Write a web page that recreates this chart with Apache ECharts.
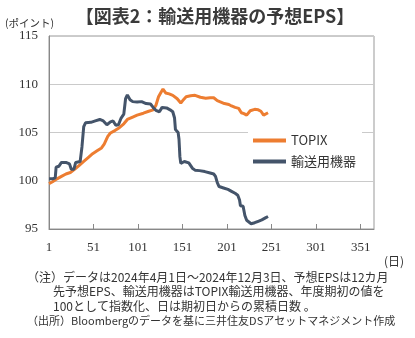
<!DOCTYPE html>
<html><head><meta charset="utf-8">
<script src="https://cdn.jsdelivr.net/npm/echarts@6/dist/echarts.min.js"></script>
<style>html,body{margin:0;padding:0;background:#fff}#c{width:415px;height:338px}</style>
</head><body><div id="c"></div>
<script>
const seriesNames = ['TOPIX', '輸送用機器'];
const topixDays = [1,5,10,15,20,25,30,35,40,45,50,55,60,63,67,70,75,80,85,89,95,100,107,113,118,121,124,127,129,132,136,140,145,149,152,155,160,165,171,177,182,186,190,194,198,203,206,210,214,217,220,223,227,232,236,239,242,244,246,247];
const topixValues = [99.7,99.9,100.2,100.45,100.7,100.85,101.2,101.6,102.0,102.4,102.8,103.1,103.4,103.8,104.6,104.95,105.2,105.5,105.9,106.35,106.6,106.8,107.0,107.2,107.35,107.8,108.7,109.2,109.5,109.1,109.0,108.85,108.5,108.05,108.4,108.7,108.8,108.85,108.65,108.55,108.6,108.6,108.3,108.15,108.0,107.9,107.75,107.6,107.5,107.05,106.95,106.8,107.25,107.4,107.35,107.2,106.8,106.7,107.0,107.05];
const autoDays = [1,5,8,9,12,15,20,24,26,29,31,36,38,40,42,48,53,58,62,66,70,73,76,79,82,85,87,89,92,95,100,105,110,115,118,121,125,128,130,133,137,140,142,143,146,147,148,149,153,158,160,162,165,170,176,182,186,188,190,192,197,202,206,210,213,215,216,219,221,223,225,228,232,236,240,244,247];
const autoValues = [100.2,100.2,100.3,101.4,101.5,101.9,101.9,101.75,101.2,101.2,101.9,102.0,103.5,105.6,106.0,106.05,106.2,106.35,106.2,105.8,106.1,106.2,105.75,105.8,106.5,106.9,108.5,108.9,108.4,108.2,108.15,108.2,108.0,107.95,107.6,107.3,107.15,107.6,107.75,107.55,107.35,107.15,106.5,105.3,105.0,104.3,102.5,101.8,102.0,101.85,101.7,101.3,101.1,101.05,100.95,100.8,100.7,100.45,99.8,99.4,99.25,99.1,98.9,98.7,98.5,98.0,97.4,97.35,96.4,95.9,95.7,95.55,95.65,95.8,95.95,96.15,96.3];
const xTicks = [1,51,101,151,201,251,301,351];
const yTicks = [95,100,105,110,115];

const titleText = '【図表2：輸送用機器の予想EPS】';
const noteLines = [
  '（注）データは2024年4月1日～2024年12月3日、予想EPSは12カ月',
  '先予想EPS、輸送用機器はTOPIX輸送用機器、年度期初の値を',
  '100として指数化、日は期初日からの累積日数 。',
  '（出所）Bloombergのデータを基に三井住友DSアセットマネジメント作成'
];

const pairs = (d, v) => d.map((x, i) => [x, v[i]]);
const chart = echarts.init(document.getElementById('c'), null, {renderer: 'canvas'});
const jp = '"Noto Sans CJK JP", sans-serif';
chart.setOption({
  animation: false,
  grid: {left: 49, right: 41, top: 36, bottom: 109, show: true, borderColor: '#999', borderWidth: 1},
  legend: {
    orient: 'vertical', left: 248, top: 129, padding: [5, 6, 5, 5], itemGap: 8,
    backgroundColor: '#fff', itemWidth: 33, itemHeight: 4, icon: 'rect',
    textStyle: {fontFamily: jp, fontSize: 13, color: '#333'},
    data: seriesNames
  },
  xAxis: {
    type: 'value', min: xTicks[0], max: 366, interval: 50,
    axisLine: {lineStyle: {color: '#888'}},
    axisTick: {show: true, inside: true, length: 5, lineStyle: {color: '#888'}},
    splitLine: {show: false},
    axisLabel: {margin: 12, fontFamily: '"Liberation Serif", serif', fontSize: 13, color: '#333', showMaxLabel: false}
  },
  yAxis: {
    type: 'value', min: yTicks[0], max: yTicks[yTicks.length - 1], interval: 5,
    axisLine: {show: true, lineStyle: {color: '#888'}},
    axisTick: {show: false},
    splitLine: {lineStyle: {color: '#cacaca', width: 1}},
    axisLabel: {margin: 11, fontFamily: '"Liberation Serif", serif', fontSize: 13, color: '#333'}
  },
  graphic: [
    {type: 'text', x: 215, y: 16, style: {text: titleText, fontFamily: jp, fontWeight: 'bold', fontSize: 18, fill: '#3a3a3a', align: 'center', verticalAlign: 'middle'}},
    {type: 'text', x: 5, y: 23, style: {text: '(ポイント)', fontFamily: jp, fontSize: 10.5, fill: '#333', verticalAlign: 'middle'}},
    {type: 'text', x: 384, y: 261, style: {text: '(日)', fontFamily: jp, fontSize: 12, fill: '#333', verticalAlign: 'middle'}},
    {type: 'text', x: 27, y: 277, style: {text: noteLines[0], fontFamily: jp, fontSize: 12, fill: '#333', verticalAlign: 'middle'}},
    {type: 'text', x: 53, y: 291.5, style: {text: noteLines[1], fontFamily: jp, fontSize: 12, fill: '#333', verticalAlign: 'middle'}},
    {type: 'text', x: 53, y: 306, style: {text: noteLines[2], fontFamily: jp, fontSize: 12, fill: '#333', verticalAlign: 'middle'}},
    {type: 'text', x: 27, y: 320.5, style: {text: noteLines[3], fontFamily: jp, fontSize: 11, fill: '#333', verticalAlign: 'middle'}}
  ],
  series: [
    {name: seriesNames[0], type: 'line', data: pairs(topixDays, topixValues), showSymbol: false,
     lineStyle: {color: '#ED7D31', width: 3}, itemStyle: {color: '#ED7D31'}, z: 2},
    {name: seriesNames[1], type: 'line', data: pairs(autoDays, autoValues), showSymbol: false,
     lineStyle: {color: '#44546A', width: 3}, itemStyle: {color: '#44546A'}, z: 3}
  ]
});
</script></body></html>
